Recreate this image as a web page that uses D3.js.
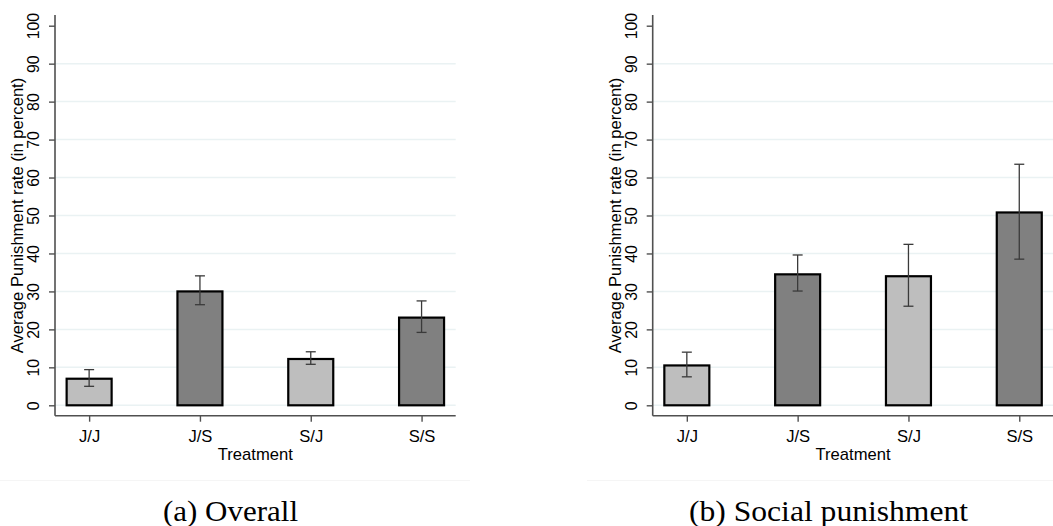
<!DOCTYPE html>
<html>
<head>
<meta charset="utf-8">
<script src="https://cdn.jsdelivr.net/npm/d3@7"></script>
<style>
  html, body { margin: 0; padding: 0; background: #ffffff; }
  svg { display: block; }
</style>
</head>
<body>
<svg id="chart" width="1053" height="526"></svg>
<script>
// Treatments and bar shading
const categories = ["J/J", "J/S", "S/J", "S/S"];
const barFills = ["#bebebe", "#808080", "#bebebe", "#808080"];

// Panel (a): overall punishment rate, mean with lower/upper CI bounds
const overallMean = [7.0, 30.0, 12.2, 23.1];
const overallLow  = [5.0, 26.5, 10.8, 19.2];
const overallHigh = [9.4, 34.1, 14.1, 27.5];

// Panel (b): social punishment rate
const socialMean = [10.5, 34.5, 34.0, 50.8];
const socialLow  = [7.5, 30.1, 26.1, 38.5];
const socialHigh = [14.0, 39.6, 42.4, 63.5];

const yTicks = [0, 10, 20, 30, 40, 50, 60, 70, 80, 90, 100];
const gridTicks = [0, 10, 20, 30, 40, 50, 60, 70, 80, 90];
const yTitle = "Average Punishment rate (in percent)";
const xTitle = "Treatment";
const captions = ["(a) Overall", "(b) Social punishment"];

const svg = d3.select("#chart");
const sans = "'Liberation Sans', Arial, sans-serif";

// faint frame edge under the graphs
svg.append("line").attr("x1", 0).attr("x2", 470).attr("y1", 480.5).attr("y2", 480.5)
  .attr("stroke", "#f5f5f5").attr("stroke-width", 1);
svg.append("line").attr("x1", 587).attr("x2", 1053).attr("y1", 480.5).attr("y2", 480.5)
  .attr("stroke", "#f5f5f5").attr("stroke-width", 1);

function drawPanel(offsetX, mean, low, high, caption, captionX, captionW) {
  const g = svg.append("g").attr("transform", `translate(${offsetX},0)`);
  const plotLeft = 55, plotRight = 455.7, plotTop = 15, plotBottom = 415.7;

  const x = d3.scalePoint().domain(categories).range([plotLeft, plotRight]).padding(0.308);
  const y = d3.scaleLinear().domain([0, 100]).range([405.3, 25.7]);
  const barW = x.step() * 0.406;

  // horizontal grid
  g.append("g").selectAll("line").data(gridTicks).join("line")
    .attr("x1", plotLeft).attr("x2", plotRight)
    .attr("y1", d => y(d)).attr("y2", d => y(d))
    .attr("stroke", "#eaf2f3").attr("stroke-width", 1.5);

  // bars
  g.append("g").selectAll("rect").data(categories).join("rect")
    .attr("x", d => x(d) - barW / 2)
    .attr("y", (d, i) => y(mean[i]))
    .attr("width", barW)
    .attr("height", (d, i) => y(0) - y(mean[i]))
    .attr("fill", (d, i) => barFills[i])
    .attr("stroke", "#000").attr("stroke-width", 2.2);

  // confidence intervals
  const eb = g.append("g").attr("stroke", "#3a3a3a").attr("stroke-width", 1.3);
  categories.forEach((c, i) => {
    const cx = x(c);
    eb.append("line").attr("x1", cx).attr("x2", cx).attr("y1", y(low[i])).attr("y2", y(high[i]));
    eb.append("line").attr("x1", cx - 5).attr("x2", cx + 5).attr("y1", y(low[i])).attr("y2", y(low[i]));
    eb.append("line").attr("x1", cx - 5).attr("x2", cx + 5).attr("y1", y(high[i])).attr("y2", y(high[i]));
  });

  // y axis
  const yAxis = g.append("g").attr("transform", `translate(${plotLeft},0)`)
    .call(d3.axisLeft(y).tickValues(yTicks).tickSize(6).tickPadding(3).tickSizeOuter(0));
  yAxis.select(".domain").remove();
  yAxis.selectAll(".tick line").attr("stroke", "#505050").attr("stroke-width", 1.4);
  yAxis.selectAll(".tick text")
    .attr("font-family", sans).attr("font-size", 15.8).attr("fill", "#000")
    .attr("transform", "rotate(-90)")
    .attr("x", 0).attr("y", -16).attr("dy", 0)
    .attr("text-anchor", "middle");
  g.append("line").attr("x1", plotLeft).attr("x2", plotLeft).attr("y1", plotTop).attr("y2", plotBottom)
    .attr("stroke", "#505050").attr("stroke-width", 1.6);

  // x axis
  const xAxis = g.append("g").attr("transform", `translate(0,${plotBottom})`)
    .call(d3.axisBottom(x).tickSize(6).tickPadding(5).tickSizeOuter(0));
  xAxis.select(".domain").remove();
  xAxis.selectAll(".tick line").attr("stroke", "#505050").attr("stroke-width", 1.4);
  xAxis.selectAll(".tick text")
    .attr("font-family", sans).attr("font-size", 16.6).attr("fill", "#000")
    .attr("y", 26.8).attr("dy", 0);
  g.append("line").attr("x1", plotLeft).attr("x2", plotRight).attr("y1", plotBottom).attr("y2", plotBottom)
    .attr("stroke", "#505050").attr("stroke-width", 1.6);

  // axis titles
  g.append("text")
    .attr("transform", `translate(23,${(78 + 353) / 2}) rotate(-90)`)
    .attr("text-anchor", "middle")
    .attr("font-family", sans).attr("font-size", 16.6).attr("fill", "#000")
    .text(yTitle);
  g.append("text")
    .attr("x", (plotLeft + plotRight) / 2).attr("y", 459.8)
    .attr("text-anchor", "middle")
    .attr("font-family", sans).attr("font-size", 16.6).attr("fill", "#000")
    .text(xTitle);

  // sub-figure caption
  svg.append("text")
    .attr("x", captionX).attr("y", 521)
    .attr("text-anchor", "middle")
    .attr("font-family", "'Liberation Serif', 'Times New Roman', serif")
    .attr("font-size", 30).attr("fill", "#000")
    .attr("textLength", captionW).attr("lengthAdjust", "spacingAndGlyphs")
    .text(caption);
}

drawPanel(0, overallMean, overallLow, overallHigh, captions[0], 230.5, 135);
drawPanel(597.7, socialMean, socialLow, socialHigh, captions[1], 828.5, 279);
</script>
</body>
</html>
